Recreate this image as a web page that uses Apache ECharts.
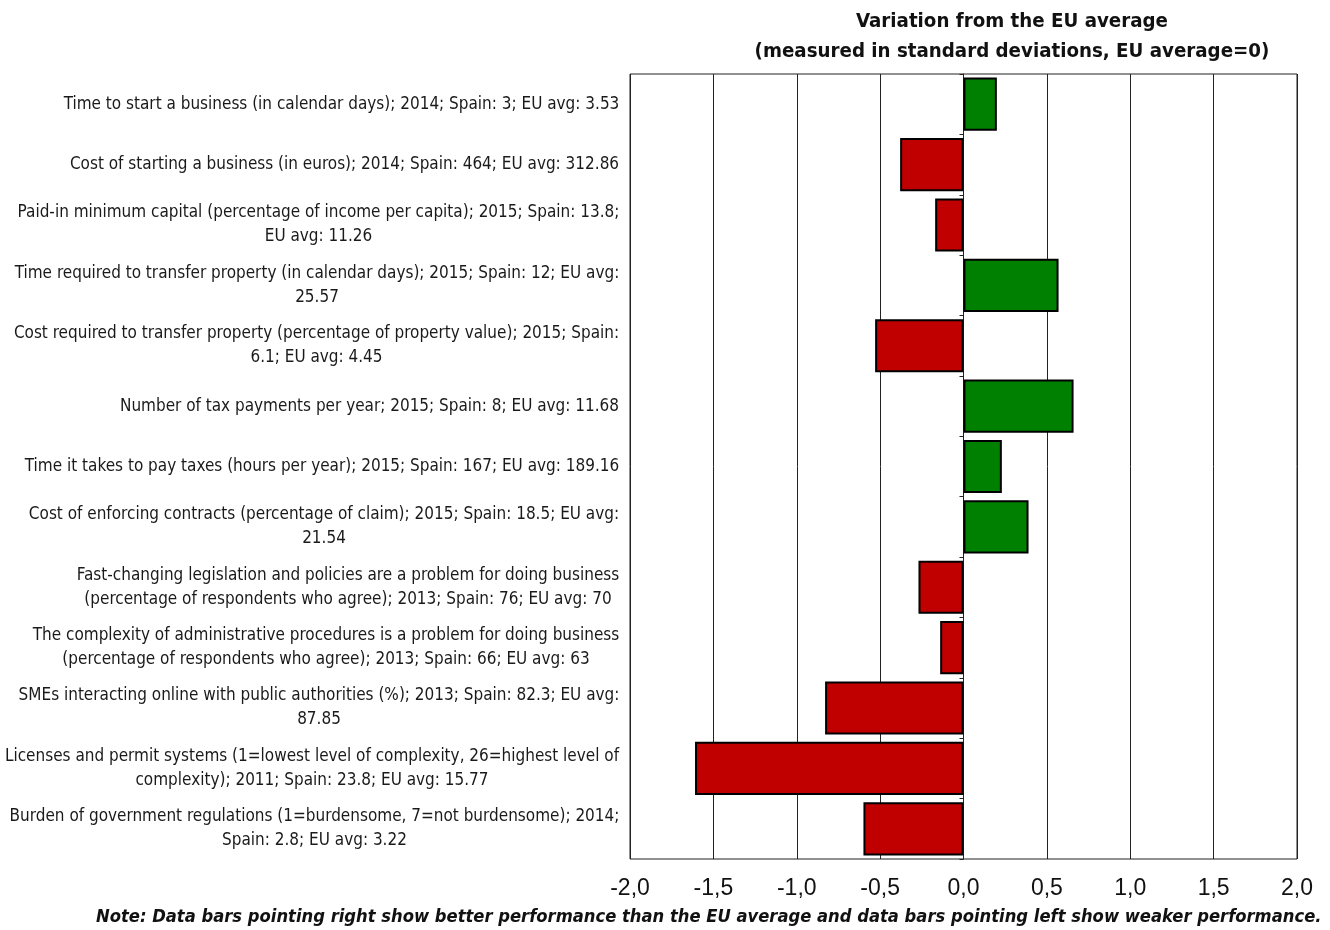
<!DOCTYPE html>
<html>
<head>
<meta charset="utf-8">
<script src="https://cdn.jsdelivr.net/npm/echarts@6/dist/echarts.min.js"></script>
<style>
  html, body { margin: 0; padding: 0; background: #fff; }
  #chart { width: 1330px; height: 930px; }
</style>
</head>
<body>
<div id="chart"></div>
<script>
// Indicators (top to bottom), with explicit line breaks
const indicators = [
  'Time to start a business (in calendar days); 2014; Spain: 3; EU avg: 3.53',
  'Cost of starting a business (in euros); 2014; Spain: 464; EU avg: 312.86',
  'Paid-in minimum capital (percentage of income per capita); 2015; Spain: 13.8;\nEU avg: 11.26',
  'Time required to transfer property (in calendar days); 2015; Spain: 12; EU avg:\n25.57',
  'Cost required to transfer property (percentage of property value); 2015; Spain:\n6.1; EU avg: 4.45',
  'Number of tax payments per year; 2015; Spain: 8; EU avg: 11.68',
  'Time it takes to pay taxes (hours per year); 2015; Spain: 167; EU avg: 189.16',
  'Cost of enforcing contracts (percentage of claim); 2015; Spain: 18.5; EU avg:\n21.54',
  'Fast-changing legislation and policies are a problem for doing business\n(percentage of respondents who agree); 2013; Spain: 76; EU avg: 70',
  'The complexity of administrative procedures is a problem for doing business\n(percentage of respondents who agree); 2013; Spain: 66; EU avg: 63',
  'SMEs interacting online with public authorities (%); 2013; Spain: 82.3; EU avg:\n87.85',
  'Licenses and permit systems (1=lowest level of complexity, 26=highest level of\ncomplexity); 2011; Spain: 23.8; EU avg: 15.77',
  'Burden of government regulations (1=burdensome, 7=not burdensome); 2014;\nSpain: 2.8; EU avg: 3.22'
];

// Variation from the EU average, in standard deviations
const deviations = [0.20, -0.38, -0.17, 0.57, -0.53, 0.66, 0.23, 0.39, -0.27, -0.14, -0.83, -1.61, -0.60];

const xTicks = { min: -2, max: 2, step: 0.5 };

const titleLines = ['Variation from the EU average', '(measured in standard deviations, EU average=0)'];
const noteText = 'Note: Data bars pointing right show better performance than the EU average and data bars pointing left show weaker performance.';

const GOOD = '#008000';
const BAD = '#C00000';

const FAMILY = '"Liberation Sans Narrow", "DejaVu Sans Condensed", sans-serif';
const ctx = document.createElement('canvas').getContext('2d');

// font size that makes a text run a given width
function fitSize(text, style, target) {
  ctx.font = style + ' 20px ' + FAMILY;
  return 20 * target / ctx.measureText(text).width;
}
const titleSize = fitSize(titleLines[1], 'bold', 515);
const noteSize = fitSize(noteText, 'italic bold', 1226);
const labelSize = (fitSize(indicators[0], 'normal', 562) + fitSize(indicators[11].split('\n')[0], 'normal', 608)) / 2;

// Each label block is right-aligned, its lines centred on the widest line
ctx.font = labelSize + 'px ' + FAMILY;
const rich = {};
indicators.forEach((txt, i) => {
  const w = Math.max(...txt.split('\n').map(l => ctx.measureText(l).width));
  rich['r' + i] = { width: Math.ceil(w) + 1, align: 'center', fontSize: labelSize, fontFamily: FAMILY, color: '#1a1a1a', lineHeight: 24 };
});

const chart = echarts.init(document.getElementById('chart'));
chart.setOption({
  animation: false,
  backgroundColor: '#fff',
  title: {
    text: titleLines.join('\n'),
    left: 1007,
    top: 2,
    textAlign: 'center',
    textStyle: {
      fontFamily: FAMILY,
      fontWeight: 'bold',
      fontSize: titleSize,
      lineHeight: 30,
      color: '#111'
    }
  },
  graphic: [{
    type: 'text',
    left: 1322 - 1226,
    top: 908,
    style: {
      text: noteText,
      font: 'italic bold ' + noteSize + 'px ' + FAMILY,
      fill: '#111'
    }
  }],
  grid: {
    left: 630, right: 33, top: 74, bottom: 71,
    containLabel: false, outerBoundsMode: 'none',
    show: true, borderColor: '#222', borderWidth: 1
  },
  xAxis: {
    type: 'value',
    min: xTicks.min,
    max: xTicks.max,
    interval: xTicks.step,
    axisLine: { show: false },
    axisTick: { show: false },
    splitLine: { show: true, lineStyle: { color: '#222', width: 1 } },
    axisLabel: {
      margin: 18,
      fontSize: 23,
      fontFamily: 'Arial, "Liberation Sans", sans-serif',
      color: '#111',
      formatter: v => v.toFixed(1).replace('.', ',')
    }
  },
  yAxis: [{
    type: 'category',
    data: indicators,
    inverse: true,
    axisLine: { show: false, onZero: false },
    axisTick: { show: false },
    axisLabel: {
      margin: 10,
      align: 'right',
      formatter: (v, i) => v.split('\n').map(l => '{r' + i + '|' + l + '}').join('\n'),
      rich: rich
    }
  }, {
    type: 'category',
    data: indicators,
    inverse: true,
    position: 'left',
    axisLine: { show: true, onZero: true, lineStyle: { color: '#222', width: 1 } },
    axisTick: { show: true, length: 4, lineStyle: { color: '#222' } },
    axisLabel: { show: false }
  }],
  series: [{
    type: 'bar',
    yAxisIndex: 0,
    data: deviations,
    barCategoryGap: '12%',
    itemStyle: {
      color: p => (p.value >= 0 ? GOOD : BAD),
      borderColor: '#000',
      borderWidth: 2
    }
  }]
});
</script>
</body>
</html>
